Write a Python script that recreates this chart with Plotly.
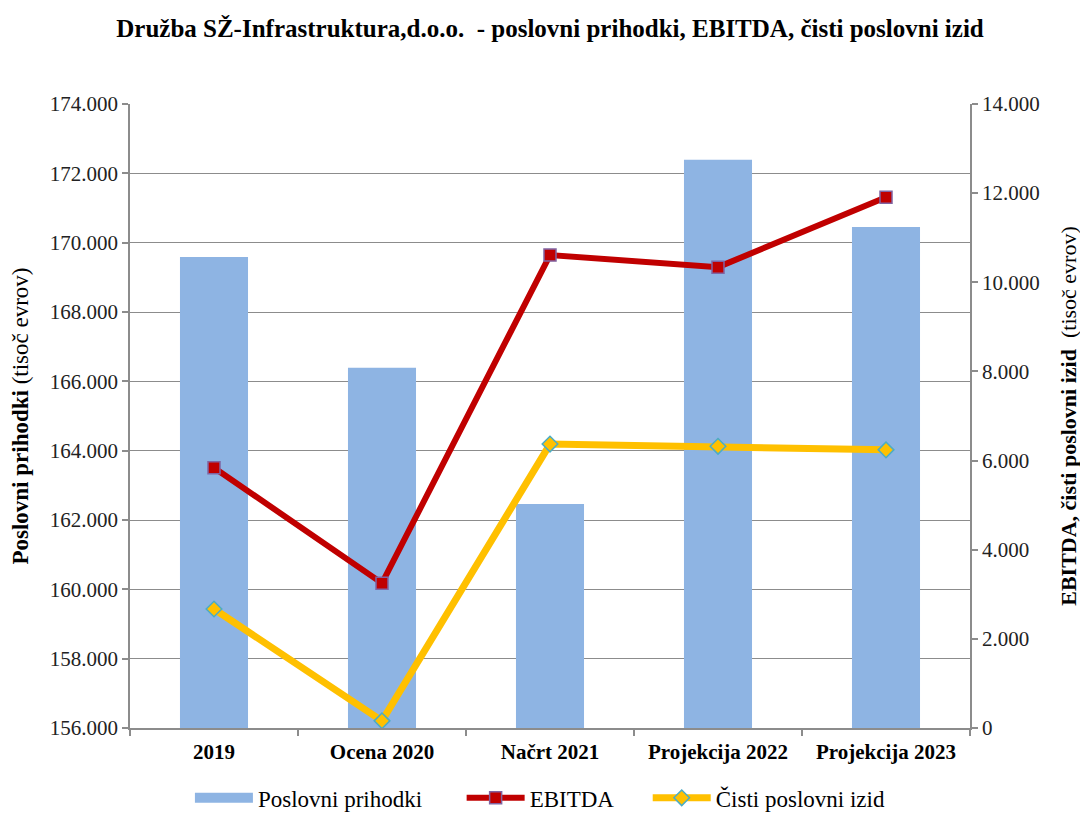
import plotly.graph_objects as go

categories = ["2019", "Ocena 2020", "Načrt 2021", "Projekcija 2022", "Projekcija 2023"]
poslovni_prihodki = [169590, 166390, 162460, 172390, 170450]
ebitda = [5840, 3250, 10610, 10340, 11910]
cisti_izid = [2670, 160, 6370, 6320, 6240]
series_names = ["Poslovni prihodki", "EBITDA", "Čisti poslovni izid"]

AXIS_MIN = 156000
SERIF = "Liberation Serif"
GRID = "#8c8c8c"
BAR_COLOR = "#8eb4e3"
NBSP = "\u00a0"

fig = go.Figure()
fig.add_trace(go.Bar(
    x=categories, y=[v - AXIS_MIN for v in poslovni_prihodki], base=AXIS_MIN,
    name=series_names[0], showlegend=False,
    marker=dict(color=BAR_COLOR, line=dict(width=0)), width=0.405,
))
# legend-only entry giving the wide rectangular swatch of the bar series
fig.add_trace(go.Scatter(
    x=[None], y=[None], name=series_names[0] + NBSP * 6, mode="lines",
    line=dict(color=BAR_COLOR, width=11), hoverinfo="skip",
))
fig.add_trace(go.Scatter(
    x=categories, y=ebitda, name=series_names[1] + NBSP * 5, yaxis="y2", mode="lines+markers",
    line=dict(color="#c00000", width=6),
    marker=dict(symbol="square", size=12, color="#c00000", line=dict(color="#8064a2", width=1.5)),
))
fig.add_trace(go.Scatter(
    x=categories, y=cisti_izid, name=series_names[2], yaxis="y2", mode="lines+markers",
    line=dict(color="#ffc000", width=7),
    marker=dict(symbol="diamond", size=12, color="#ffc000", line=dict(color="#4bacc6", width=1.5)),
))

# page has an 8px body margin: figure is 1080x806 placed at (8, 8)
fig.update_layout(
    width=1080, height=806,
    margin=dict(l=122, r=118, t=96, b=86),
    paper_bgcolor="white", plot_bgcolor="white",
    separators=",.",
    font=dict(family=SERIF, color="#000000"),
    title=dict(
        text="Družba SŽ-Infrastruktura,d.o.o.  - poslovni prihodki, EBITDA, čisti poslovni izid",
        x=0.5, xanchor="center", xref="paper", yref="container", y=0.975, yanchor="middle",
        font=dict(family=SERIF, size=25, color="#000000", weight="bold"),
    ),
    showlegend=True,
    legend=dict(
        orientation="h", x=0.488, xanchor="center", xref="paper",
        yref="container", y=0.02, yanchor="middle",
        font=dict(family=SERIF, size=23, color="#000000"),
        itemwidth=58, traceorder="normal",
    ),
    xaxis=dict(
        type="category", showline=True, linecolor=GRID, linewidth=1.5,
        ticks="outside", tickson="boundaries", ticklen=6, tickcolor=GRID, tickwidth=1.5,
        tickfont=dict(family=SERIF, size=21, color="#000000", weight="bold"),
        ticklabelstandoff=4,
        showgrid=False, automargin=False,
    ),
    yaxis=dict(
        range=[156000, 174000], dtick=2000, tick0=156000, tickformat=",d",
        showline=True, linecolor=GRID, linewidth=1.5,
        ticks="outside", ticklen=6, tickcolor=GRID, tickwidth=1.5,
        showgrid=True, gridcolor=GRID, gridwidth=1.3, zeroline=False,
        tickfont=dict(family=SERIF, size=21, color="#222222"),
        title=dict(text="<b>Poslovni prihodki</b> (tisoč evrov)",
                   font=dict(family=SERIF, size=23, color="#000000"), standoff=15),
        automargin=False,
    ),
    yaxis2=dict(
        range=[0, 14000], dtick=2000, tickformat=",d", overlaying="y", side="right",
        showline=True, linecolor=GRID, linewidth=1.5,
        ticks="outside", ticklen=6, tickcolor=GRID, tickwidth=1.5,
        showgrid=False, zeroline=False,
        tickfont=dict(family=SERIF, size=21, color="#222222"),
        title=dict(text="<b>EBITDA, čisti poslovni izid</b>  (tisoč evrov)",
                   font=dict(family=SERIF, size=22, color="#000000"), standoff=22),
        automargin=False,
    ),
)

fig.write_html("out.html")
